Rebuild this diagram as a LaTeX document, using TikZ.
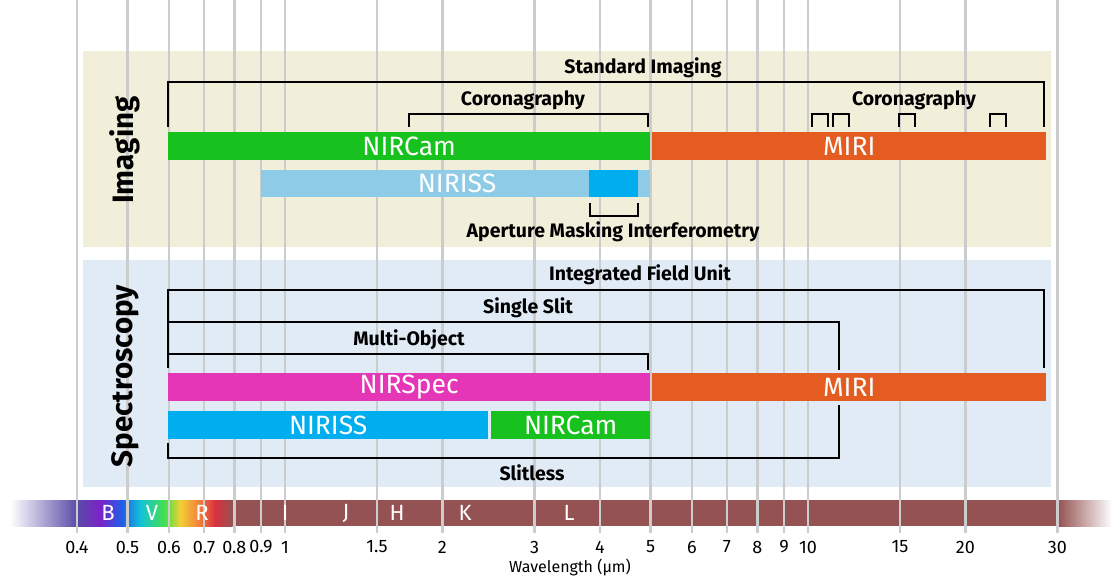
\documentclass[tikz,border=0pt]{standalone}
\usepackage{fontspec}
\setmainfont{Fira Sans}
\definecolor{imgpanel}{HTML}{F1EFDA}
\definecolor{specpanel}{HTML}{E1EBF5}
\definecolor{gridc}{HTML}{CCCCCC}
\definecolor{cnircam}{HTML}{17C11E}
\definecolor{cmiri}{HTML}{E45C20}
\definecolor{cnirissl}{HTML}{8ECBE6}
\definecolor{cnirissd}{HTML}{00AEEF}
\definecolor{cnirspec}{HTML}{E536B8}
\definecolor{cbrown}{HTML}{955252}
\begin{document}
\begin{tikzpicture}[x=1pt,y=-1pt,
  bar/.style={draw=none, inner sep=0pt, anchor=north west, text=white, font=\fontsize{26.5}{26.5}\selectfont},
  brk/.style={draw=black, line width=2.4pt},
  blabel/.style={font=\bfseries\fontsize{19.5}{20}\selectfont, inner sep=0pt},
  band/.style={font=\fontsize{22}{22}\selectfont, text=white, inner sep=0pt},
  tick/.style={font=\fontsize{18}{18}\selectfont, inner sep=0pt},
  sect/.style={font=\bfseries\fontsize{29.5}{29.5}\selectfont, rotate=90, inner sep=0pt}]
\useasboundingbox (0,0) rectangle (1115,577);
\fill[white] (0,0) rectangle (1115,577);
% panels
\fill[imgpanel] (83,51) rectangle (1051,247);
\fill[specpanel] (83,260) rectangle (1051,487);
% spectrum bar
\shade[left color=white, right color=white!10!cbrown!40!blue!60!gray] (10,500) rectangle (77.5,526);
\shade[left color=white!10!cbrown!40!blue!60!gray, right color={rgb,255:red,123;green,34;blue,200}] (77,500) rectangle (100.5,526);
\shade[left color={rgb,255:red,123;green,34;blue,200}, right color={rgb,255:red,31;green,95;blue,232}] (100,500) rectangle (122.5,526);
\shade[left color={rgb,255:red,31;green,95;blue,232}, right color={rgb,255:red,18;green,194;blue,216}] (122,500) rectangle (140.5,526);
\shade[left color={rgb,255:red,18;green,194;blue,216}, right color={rgb,255:red,71;green,224;blue,74}] (140,500) rectangle (165.5,526);
\shade[left color={rgb,255:red,71;green,224;blue,74}, right color={rgb,255:red,242;green,208;blue,53}] (165,500) rectangle (180.5,526);
\shade[left color={rgb,255:red,242;green,208;blue,53}, right color={rgb,255:red,242;green,122;blue,58}] (180,500) rectangle (200.5,526);
\shade[left color={rgb,255:red,242;green,122;blue,58}, right color={rgb,255:red,216;green,48;blue,64}] (200,500) rectangle (215.5,526);
\shade[left color={rgb,255:red,216;green,48;blue,64}, right color=cbrown] (215,500) rectangle (232.5,526);
\fill[cbrown] (232,500) rectangle (1058.5,526);
\shade[left color=cbrown, right color=white] (1058,500) rectangle (1112,526);
% gridlines
\foreach \v in {0.4,0.5,0.6,0.7,0.8,0.9,1,1.5,2,3,4,5,6,7,8,9,10,15,20,30}{
  \pgfmathsetmacro{\xx}{285+523*log10(\v)}
  \draw[gridc, line width=2.6pt] (\xx,0) -- (\xx,533);
  \node[tick] at (\xx,547) {\v};
}
\node[font=\fontsize{16}{16}\selectfont, inner sep=0pt] (wl) at (570,567) {Wavelength (µm)};
% band labels
\node[band] (bB) at (108,513) {B};
\node[band] (bV) at (152,513) {V};
\node[band] (bR) at (202,513) {R};
\node[band] (bI) at (285,513) {I};
\node[band] (bJ) at (346,513) {J};
\node[band] (bH) at (397,513) {H};
\node[band] (bK) at (465,513) {K};
\node[band] (bL) at (569,513) {L};
% section titles
\node[sect] (tImg) at (125,150) {Imaging};
\node[sect] (tSpec) at (125,376) {Spectroscopy};
% imaging bars
\node[bar, fill=cnircam, minimum width=482, minimum height=28] (imNIRCam) at (168,132) {NIRCam};
\node[bar, fill=cmiri, minimum width=394, minimum height=28] (imMIRI) at (652,132) {MIRI};
\node[bar, fill=cnirissl, minimum width=389, minimum height=27] (imNIRISS) at (261,170) {};
\node[bar, fill=cnirissd, minimum width=49, minimum height=27] (imAMI) at (589,170) {};
\node[font=\fontsize{26.5}{26.5}\selectfont, text=white, inner sep=0pt] (imNIRISSl) at (457,183.5) {NIRISS};
% imaging brackets
\draw[brk] (168,127) |- (1044,82) -- (1044,127);
\node[blabel] (lStd) at (643,68) {Standard Imaging};
\draw[brk] (409,127) |- (648,114) -- (648,127);
\node[blabel] (lCor1) at (523,100) {Coronagraphy};
\foreach \a/\b in {812/828,833/849,899/915,990/1006}{
  \draw[brk] (\a,127) |- (\b,114) -- (\b,127);
}
\node[blabel] (lCor2) at (914,100) {Coronagraphy};
\draw[brk] (590,203) |- (638,216) -- (638,203);
\node[blabel] (lAMI) at (613,232) {Aperture Masking Interferometry};
% spectroscopy bars
\node[bar, fill=cnirspec, minimum width=482, minimum height=28] (spNIRSpec) at (168,373) {NIRSpec};
\node[bar, fill=cmiri, minimum width=394, minimum height=28] (spMIRI) at (652,373) {MIRI};
\node[bar, fill=cnirissd, minimum width=320, minimum height=28] (spNIRISS) at (168,411) {NIRISS};
\node[bar, fill=cnircam, minimum width=159, minimum height=28] (spNIRCam) at (491,411) {NIRCam};
% spectroscopy brackets
\draw[brk] (168,368) |- (1044,290) -- (1044,368);
\node[blabel] (lIFU) at (640,275) {Integrated Field Unit};
\draw[brk] (168,368) |- (839,322) -- (839,370);
\node[blabel] (lSS) at (528,308) {Single Slit};
\draw[brk] (168,368) |- (648,354) -- (648,370);
\node[blabel] (lMO) at (409,340) {Multi-Object};
\draw[brk] (168,443) |- (839,458) -- (839,405);
\node[blabel] (lSL) at (532,473) {Slitless};
\end{tikzpicture}
\end{document}
